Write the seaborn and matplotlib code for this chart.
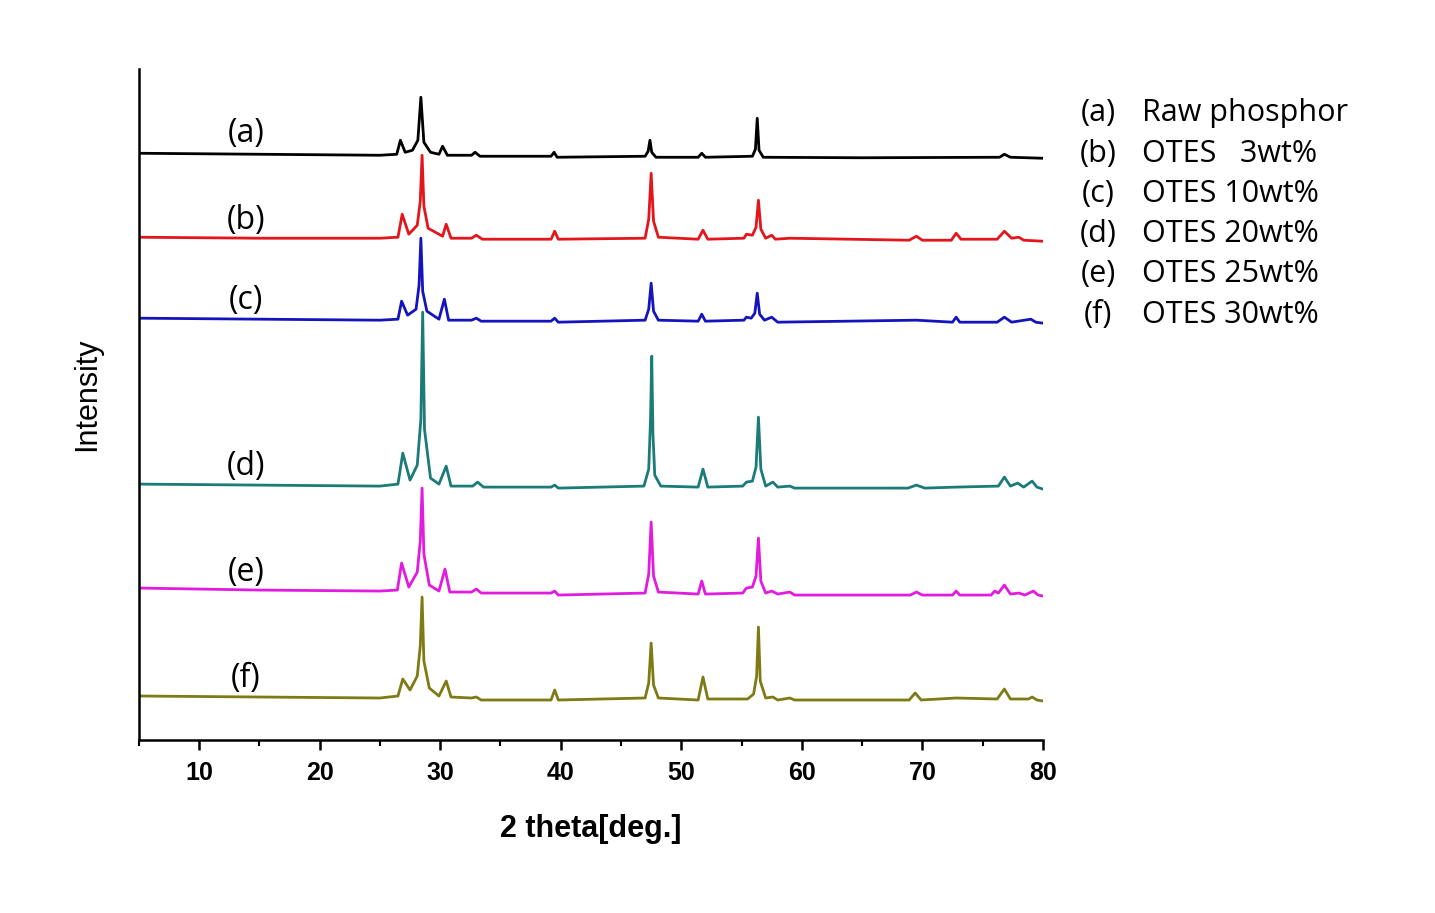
import numpy as np
import matplotlib
matplotlib.use("Agg")
import matplotlib.pyplot as plt
import seaborn as sns
from matplotlib.ticker import MultipleLocator


# =========================================
# DATA (intensity above each trace's own baseline)
# =========================================

a_x = [5, 15, 25, 26.4, 26.7, 27.1, 27.7, 28.15, 28.4, 28.65, 29.2, 29.9, 30.2, 30.6, 32.6, 32.9, 33.3, 39.2, 39.45, 39.7,
       47.0, 47.25, 47.4, 47.55, 47.9, 51.4, 51.7, 52.0, 55.9, 56.15, 56.3, 56.45, 56.8, 65, 76.4, 76.8, 77.3, 80]
a_y = [5, 4, 3, 4, 18, 6, 8, 18, 61, 16, 6, 4, 12, 3, 3, 6, 2, 2, 6, 1,
       2, 7, 18, 6, 1, 1, 5, 1, 2, 9, 40, 8, 1, 0.5, 1, 4, 1, 0]

b_x = [5, 15, 25, 26.5, 26.85, 27.4, 28.1, 28.35, 28.5, 28.65, 29.0, 30.2, 30.5, 30.9, 32.6, 33.0, 33.5, 39.2, 39.5, 39.8,
       47.0, 47.3, 47.5, 47.7, 48.1, 51.4, 51.8, 52.2, 55.2, 55.4, 55.9, 56.2, 56.4, 56.6, 57.0, 57.5, 57.8, 59.0, 68.9, 69.5,
       70.0, 72.4, 72.8, 73.2, 76.2, 76.8, 77.4, 78.0, 78.4, 80]
b_y = [4, 3, 3, 4, 27, 7, 16, 40, 86, 35, 13, 5, 17, 3, 3, 6, 2, 2, 10, 2,
       3, 22, 68, 20, 4, 2, 11, 2, 3, 7, 6, 14, 41, 12, 3, 6, 2, 3, 1, 5,
       1, 1, 8, 2, 2, 10, 3, 4, 1, 0]

c_x = [5, 15, 25, 26.5, 26.8, 27.3, 28.0, 28.25, 28.4, 28.55, 28.9, 29.9, 30.35, 30.7, 32.6, 33.0, 33.4, 39.2, 39.5, 39.8,
       47.0, 47.3, 47.5, 47.7, 48.1, 51.4, 51.7, 52.0, 55.2, 55.4, 55.8, 56.1, 56.3, 56.5, 56.9, 57.5, 58.0, 69.5, 72.5, 72.8,
       73.1, 76.2, 76.8, 77.4, 79.0, 79.4, 80]
c_y = [5, 4, 3, 4, 22, 8, 14, 38, 85, 32, 12, 4, 24, 3, 3, 5, 2, 2, 5, 1,
       3, 14, 40, 12, 3, 2, 9, 2, 3, 6, 5, 10, 30, 9, 3, 6, 1, 3, 1, 6,
       1, 1, 6, 1, 4, 1, 0]

d_x = [5, 15, 25, 26.5, 26.9, 27.5, 28.1, 28.4, 28.55, 28.7, 29.2, 29.9, 30.5, 30.9, 32.7, 33.1, 33.6, 39.2, 39.5, 39.8,
       46.9, 47.3, 47.45, 47.55, 47.65, 47.8, 48.3, 51.4, 51.8, 52.2, 55.1, 55.4, 55.9, 56.2, 56.4, 56.6, 57.0, 57.6, 58.0, 59.0,
       59.4, 68.8, 69.5, 70.2, 72.8, 76.3, 76.8, 77.3, 77.9, 78.4, 79.1, 79.5, 80]
d_y = [5, 4, 3, 5, 36, 9, 24, 70, 177, 60, 11, 5, 23, 3, 3, 7, 2, 2, 4, 1,
       3, 20, 70, 133, 55, 14, 3, 2, 20, 2, 3, 7, 8, 22, 72, 20, 3, 7, 2, 3,
       1, 1, 4, 1, 2, 3, 12, 3, 6, 2, 8, 2, 0]

e_x = [5, 15, 25, 26.45, 26.8, 27.4, 28.1, 28.35, 28.5, 28.65, 29.1, 29.9, 30.4, 30.8, 32.6, 33.0, 33.4, 39.2, 39.5, 39.8,
       47.0, 47.3, 47.5, 47.7, 48.1, 51.4, 51.7, 52.0, 55.1, 55.4, 55.9, 56.2, 56.4, 56.6, 57.0, 57.5, 58.0, 59.0, 59.4, 69.0,
       69.5, 70.0, 72.5, 72.8, 73.1, 75.7, 76.0, 76.3, 76.8, 77.3, 78.0, 78.5, 79.2, 79.6, 80]
e_y = [8, 6, 5, 6, 33, 9, 24, 55, 108, 42, 11, 5, 27, 4, 4, 7, 3, 3, 5, 1,
       3, 22, 74, 20, 4, 2, 15, 2, 3, 8, 9, 20, 58, 15, 3, 5, 2, 4, 1, 1,
       4, 1, 1, 5, 1, 1, 5, 3, 11, 2, 3, 1, 5, 1, 0]

f_x = [5, 15, 25, 26.5, 26.9, 27.5, 28.1, 28.35, 28.5, 28.65, 29.1, 29.9, 30.5, 30.9, 32.6, 33.0, 33.4, 39.2, 39.5, 39.8,
       47.0, 47.3, 47.5, 47.7, 48.1, 51.4, 51.8, 52.2, 55.5, 56.0, 56.25, 56.4, 56.55, 57.0, 57.6, 58.0, 59.0, 59.4, 68.9, 69.4,
       69.9, 72.8, 76.2, 76.8, 77.3, 78.8, 79.1, 79.5, 80]
f_y = [5, 4, 3, 5, 22, 11, 25, 55, 104, 40, 13, 5, 20, 4, 3, 4, 1, 1, 11, 1,
       3, 18, 58, 16, 3, 1, 24, 2, 2, 7, 25, 74, 20, 3, 4, 1, 3, 1, 1, 8,
       1, 3, 2, 12, 2, 2, 4, 1, 0]

tags = ["(a)", "(b)", "(c)", "(d)", "(e)", "(f)"]
names = ["Raw phosphor", "OTES   3wt%", "OTES 10wt%", "OTES 20wt%", "OTES 25wt%", "OTES 30wt%"]

# vertical stacking of the traces
offsets = [582, 499, 417, 251, 144, 39]
tag_rise = [25, 21, 23, 23, 24, 23]

colors = ["#000000", "#E3161C", "#1414BE", "#1B7B78", "#E11BDF", "#7E7A14"]


# =========================================
# FIGURE
# =========================================

sns.set_style("ticks")
plt.rcParams["font.family"] = ["Liberation Sans", "DejaVu Sans"]
plt.rcParams["text.color"] = "black"
plt.rcParams["axes.labelcolor"] = "black"
plt.rcParams["xtick.color"] = "black"
plt.rcParams["axes.edgecolor"] = "black"

fig = plt.figure(figsize=(14.35, 9.13), dpi=100)
ax = fig.add_axes([0.0967, 0.1895, 0.6301, 0.7346])

series = [(a_x, a_y), (b_x, b_y), (c_x, c_y), (d_x, d_y), (e_x, e_y), (f_x, f_y)]

for (xs, ys), off, col, tag, rise in zip(series, offsets, colors, tags, tag_rise):
    sns.lineplot(x=xs, y=np.array(ys) + off, ax=ax, color=col,
                 linewidth=2.0, estimator=None, sort=False)
    ax.text(13.9, off + rise, tag, ha="center", va="center",
            fontsize=23, family=["Open Sans", "DejaVu Sans"])

ax.set_xlim(5, 80)
ax.set_ylim(0, 671)

ax.xaxis.set_major_locator(MultipleLocator(10))
ax.xaxis.set_minor_locator(MultipleLocator(5))
ax.set_xticks([10, 20, 30, 40, 50, 60, 70, 80])
ax.set_yticks([])

for lab in ax.get_xticklabels():
    lab.set_fontweight("bold")
    lab.set_fontsize(18)

ax.tick_params(axis="x", which="major", direction="out", length=7, width=1.8, pad=8)
ax.tick_params(axis="x", which="minor", direction="out", length=4, width=1.5)

ax.set_xlabel("2 theta[deg.]", fontsize=22, fontweight="bold", labelpad=21)
ax.set_ylabel("Intensity", fontsize=22)
ax.yaxis.set_label_coords(-0.041, 0.515)

sns.despine(ax=ax)
for side in ["left", "bottom"]:
    ax.spines[side].set_linewidth(1.8)

# legend block on the right
row_y = [113, 154, 194, 234, 274, 315]
for tag, name, py in zip(tags, names, row_y):
    fy = 1 - py / 913
    fig.text(1098 / 1435, fy, tag, ha="center", va="center",
             fontsize=22, family=["Open Sans", "DejaVu Sans"])
    fig.text(1142 / 1435, fy, name, ha="left", va="center",
             fontsize=22, family=["Open Sans", "DejaVu Sans"])

fig.savefig("out.png", dpi=100)
